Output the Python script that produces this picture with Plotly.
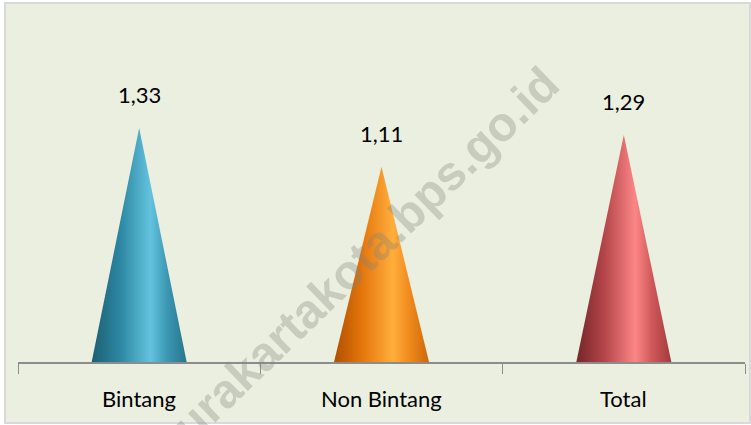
import plotly.graph_objects as go

categories = ["Bintang", "Non Bintang", "Total"]
values = [1.33, 1.11, 1.29]
value_labels = ["1,33", "1,11", "1,29"]

gradients = [
    [[0, "#1D5F73"], [0.3, "#2C87A2"], [0.62, "#63C3DE"], [0.8, "#3A96B1"], [1, "#27758C"]],
    [[0, "#B05000"], [0.3, "#E5760C"], [0.62, "#FFAE3C"], [0.8, "#F0891C"], [1, "#CC6708"]],
    [[0, "#742629"], [0.3, "#B5464A"], [0.62, "#FC8686"], [0.8, "#CF5759"], [1, "#A4393D"]],
]

W, H = 751, 425
L, R, T, B = 18, 6, 28, 63
HALF = 0.196
YMAX = (H - B - T) / 176.0

fig = go.Figure()
for i, (cat, v) in enumerate(zip(categories, values)):
    fig.add_trace(go.Scatter(
        x=[i - HALF, i, i + HALF, i - HALF],
        y=[0, v, 0, 0],
        mode="lines",
        line=dict(width=0),
        fill="toself",
        fillgradient=dict(type="horizontal", colorscale=gradients[i]),
        hoverinfo="skip",
        showlegend=False,
        name=cat,
    ))

plot_h = H - T - B
pw = W - L - R

annotations = []
# watermark (drawn first, under the labels)
annotations.append(dict(x=(355 - L) / pw, y=((H - B) - 264) / plot_h, xref="paper", yref="paper",
                        xanchor="center", yanchor="middle",
                        text="<b>surakartakota.bps.go.id</b>", showarrow=False, textangle=-44,
                        font=dict(family="Liberation Sans", size=48, color="rgba(128,135,125,0.33)")))
for i, (v, lab) in enumerate(zip(values, value_labels)):
    annotations.append(dict(x=i, y=v, xref="x", yref="y", text=lab, showarrow=False,
                            xanchor="center", yanchor="middle", yshift=33,
                            font=dict(family="Lato", size=22, color="#000000")))
for i, cat in enumerate(categories):
    annotations.append(dict(x=i, y=-(398 - (H - B)) / plot_h, xref="x", yref="paper", text=cat,
                            showarrow=False, xanchor="center", yanchor="middle",
                            font=dict(family="Lato", size=22, color="#000000")))

fig.add_shape(type="rect", xref="paper", yref="paper",
              x0=(5 - L) / pw, x1=(750 - L) / pw,
              y0=((H - B) - 423) / plot_h, y1=((H - B) - 3) / plot_h,
              line=dict(color="#D9D9D9", width=2), fillcolor="#EBEFE0", layer="below")

fig.update_layout(
    width=W, height=H,
    margin=dict(l=L, r=R, t=T, b=B),
    paper_bgcolor="#FFFFFF",
    plot_bgcolor="rgba(0,0,0,0)",
    annotations=annotations,
    xaxis=dict(range=[-0.5, 2.5], tickmode="array", tickvals=[-0.5, 0.5, 1.5, 2.5],
               showticklabels=False, ticks="outside", ticklen=10, tickcolor="#8C8C8C", tickwidth=1,
               showline=True, linecolor="#8C8C8C", linewidth=2, showgrid=False, zeroline=False,
               fixedrange=True),
    yaxis=dict(range=[0, YMAX], visible=False, showgrid=False, zeroline=False, fixedrange=True),
)

fig.write_html("out.html", config={"displayModeBar": False},
               post_script="document.body.style.margin='0';document.body.style.padding='0';")
